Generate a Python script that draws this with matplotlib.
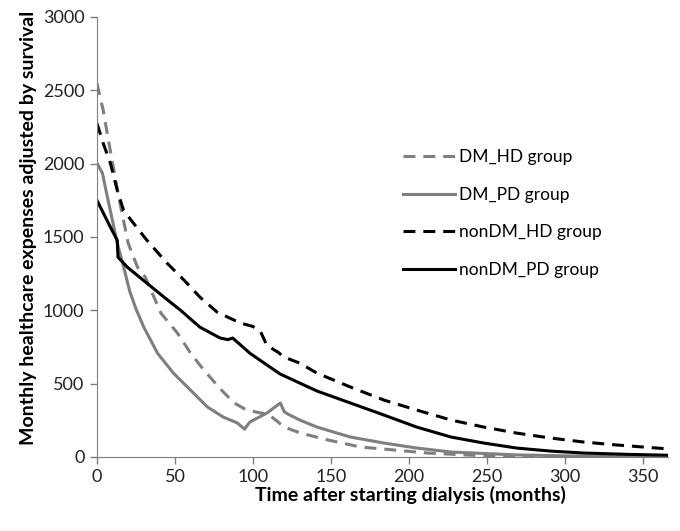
import matplotlib.pyplot as plt

plt.rcParams['font.family'] = ['Lato', 'DejaVu Sans']

# DM_HD group (gray dashed)
dm_hd_x = [0, 4, 7, 10.5, 14, 17, 20, 26, 31, 41, 51.6, 60, 68, 79, 88, 96, 105, 110, 116, 120,
           130, 148, 169, 190, 212, 240, 270, 300, 330, 366]
dm_hd_y = [2548, 2364, 2180, 1975, 1771, 1614, 1458, 1294, 1226, 981, 845, 708, 600, 465, 368, 320, 300, 290, 240, 204,
           165, 116, 68, 48, 27, 12, 5, 2, 1, 0]

# DM_PD group (gray solid)
dm_pd_x = [0, 3.5, 6.7, 9.9, 13, 17, 21, 25, 30, 38.8, 49, 60, 70.8, 81, 90, 94.6, 98, 109, 117.6, 120,
           122, 130, 141, 162.5, 184, 205, 227, 269, 300, 330, 366]
dm_pd_y = [2003, 1935, 1771, 1614, 1458, 1300, 1130, 1010, 886, 708, 572, 456, 341, 272, 232, 190, 238, 300, 368, 310,
           295, 252, 204, 136, 95, 61, 34, 14, 8, 4, 2]

# nonDM_HD group (black dashed)
ndm_hd_x = [0, 4, 8.6, 13, 17, 23.4, 32, 45, 55.8, 66, 77, 92, 100, 105, 109, 116, 120, 130, 141, 162.5,
            184, 205, 227, 248, 269, 291, 312, 333, 366]
ndm_hd_y = [2275, 2139, 2003, 1819, 1683, 1594, 1478, 1321, 1206, 1090, 988, 913, 890, 852, 760, 715, 681, 640, 572, 477,
            388, 320, 252, 204, 163, 129, 102, 82, 55]

# nonDM_PD group (black solid)
ndm_pd_x = [0, 5.4, 10.6, 13, 13.5, 19.5, 32, 43, 53.5, 66, 79, 84, 87, 90, 98, 109, 117.6, 130, 141, 162.5,
            184, 205, 227, 248, 269, 291, 312, 340, 366]
ndm_pd_y = [1750, 1635, 1526, 1478, 1362, 1294, 1185, 1090, 1001, 885, 811, 800, 811, 783, 708, 627, 565, 504, 450, 368,
            286, 204, 136, 95, 61, 40, 27, 18, 12]

gray = '#7f7f7f'
fig = plt.figure(figsize=(6.8, 5.31), dpi=100)
ax = fig.add_axes([0.1426, 0.1394, 0.8394, 0.8286])

ax.plot(dm_hd_x, dm_hd_y, color=gray, lw=2.2, dashes=(3.9, 2.6), label='DM_HD group')
ax.plot(dm_pd_x, dm_pd_y, color=gray, lw=2.2, label='DM_PD group')
ax.plot(ndm_hd_x, ndm_hd_y, color='black', lw=2.2, dashes=(3.9, 2.6), label='nonDM_HD group')
ax.plot(ndm_pd_x, ndm_pd_y, color='black', lw=2.2, label='nonDM_PD group')

ax.set_xlim(0, 366)
ax.set_ylim(0, 3000)
ax.set_xticks(range(0, 351, 50))
ax.set_yticks(range(0, 3001, 500))
ax.tick_params(labelsize=13, color=gray, length=5, width=1, labelcolor='#222222', pad=4)
for s in ['top', 'right']:
    ax.spines[s].set_visible(False)
for s in ['left', 'bottom']:
    ax.spines[s].set_color(gray)

ax.set_xlabel('Time after starting dialysis (months)', fontsize=14, fontweight='bold', labelpad=3)
ax.set_ylabel('Monthly healthcare expenses adjusted by survival', fontsize=14, fontweight='bold', labelpad=4)
ax.xaxis.set_label_coords(0.55, -0.065)
ax.yaxis.label.set_y(0.52)

ax.legend(loc='center left', bbox_to_anchor=(0.508, 0.553), frameon=False, fontsize=12.5,
          handlelength=3.0, handletextpad=0.23, labelspacing=1.24)

fig.savefig('out.png', dpi=100)
